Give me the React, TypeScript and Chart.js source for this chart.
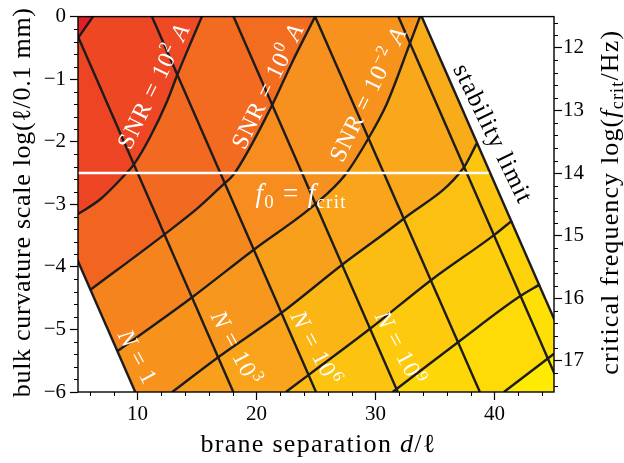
import React, { useEffect, useRef } from 'react';
import { Chart, registerables } from 'chart.js';

Chart.register(...registerables);

// ---------------- axes ----------------
const xTickValues = [10, 20, 30, 40];
const yTickValues = [-6, -5, -4, -3, -2, -1, 0];
const freqTickValues = [12, 13, 14, 15, 16, 17];

// ------------- constant-N lines (and the two boundaries) -------------
// x where each line meets y = 0 (top) and y = -6 (bottom)
const nLineTopX = [-3.99, 4.27, 11.21, 18.07, 24.92, 31.92, 33.88];
const nLineBottomX = [9.81, 18.05, 25.0, 31.87, 38.77, 45.72, 47.7];
const nLineTopY = 0;
const nLineBottomY = -6;

// ------------- constant-SNR curves -------------
const snrP4X = [5, 6.26];
const snrP4Y = [-0.342, 0];
const snrP2X = [5, 6.87, 8.83, 9.67, 11.07, 12.47, 13.35, 14.4, 15.41];
const snrP2Y = [-3.156, -2.92, -2.55, -2.37, -1.92, -1.36, -0.93, -0.45, 0];
const snr0X = [6.02, 12.27, 15.13, 17.22, 18.07, 21.29, 22.97, 24.92];
const snr0Y = [-4.37, -3.48, -3.05, -2.68, -2.526, -1.424, -0.74, 0];
const snrM2X = [8.3, 14.57, 19.74, 24.92, 27.46, 29.4, 30.94, 32.9, 33.74];
const snrM2Y = [-5.35, -4.49, -3.73, -3.0, -2.526, -1.948, -1.397, -0.425, 0];
const snrM4X = [12.92, 16.81, 22.13, 27.17, 32.34, 37.39, 38.5];
const snrM4Y = [-6, -5.44, -4.73, -3.97, -3.235, -2.42, -2.03];
const snrM6X = [22.47, 24.36, 29.54, 34.72, 40.04, 41.47];
const snrM6Y = [-6, -5.73, -4.99, -4.205, -3.48, -3.26];
const snrM8X = [31.44, 36.96, 42.14, 43.82];
const snrM8Y = [-6, -5.2, -4.47, -4.28];
const snrM10X = [40.79, 44.51, 45];
const snrM10Y = [-6, -5.46, -5.39];

const snrCurvesX = [snrP4X, snrP2X, snr0X, snrM2X, snrM4X, snrM6X, snrM8X, snrM10X];
const snrCurvesY = [snrP4Y, snrP2Y, snr0Y, snrM2Y, snrM4Y, snrM6Y, snrM8Y, snrM10Y];

// ------------- f0 = fcrit line -------------
const critLineX = [5, 39.5];
const critLineY = [-2.5, -2.5];

// ------------- cell values (rows: between SNR curves, top to bottom; columns: between N lines) -------------
const cellRow0 = [0.0, 0.0, 0.02, 0.04, 0.05, 0.06];
const cellRow1 = [0.12, 0.13, 0.14, 0.16, 0.17, 0.18];
const cellRow2 = [0.26, 0.28, 0.29, 0.3, 0.31, 0.32];
const cellRow3 = [0.4, 0.42, 0.45, 0.47, 0.48, 0.5];
const cellRow4 = [0.49, 0.51, 0.56, 0.58, 0.6, 0.62];
const cellRow5 = [0.55, 0.58, 0.68, 0.71, 0.74, 0.77];
const cellRow6 = [0.66, 0.7, 0.76, 0.8, 0.83, 0.86];
const cellRow7 = [0.78, 0.82, 0.86, 0.89, 0.91, 0.93];
const cellRow8 = [0.9, 0.92, 0.94, 0.96, 0.97, 1.0];
const cellRows = [cellRow0, cellRow1, cellRow2, cellRow3, cellRow4, cellRow5, cellRow6, cellRow7, cellRow8];

// ------------- colour map -------------
const levelStops = [0, 0.1, 0.2, 0.3, 0.4, 0.5, 0.6, 0.7, 0.8, 0.9, 1];
const levelPalette = ['#e31e28', '#ec4024', '#f05a22', '#f36d21', '#f5841f', '#f7951d', '#f9a81b', '#fbba15', '#fdca0e', '#fed808', '#fff200'];

const FONT = '"Liberation Serif", "Times New Roman", serif';
const LINE = '#1c1c1c';

type Run = { t: string; it?: boolean; sub?: boolean; sup?: boolean };

const annotations: { runs: Run[]; x: number; y: number; angle: number; size: number; color: string; middle: boolean; spacing: number }[] = [
  { runs: [{ t: 'SNR = 10' }, { t: '2', sup: true }, { t: ' ' }, { t: 'A', it: true }], x: 11.35, y: -1.11, angle: -64, size: 24, color: '#fff', middle: true, spacing: 1 },
  { runs: [{ t: 'SNR = 10' }, { t: '0', sup: true }, { t: ' ' }, { t: 'A', it: true }], x: 20.94, y: -1.11, angle: -64, size: 24, color: '#fff', middle: true, spacing: 1 },
  { runs: [{ t: 'SNR = 10' }, { t: '\u22122', sup: true }, { t: ' ' }, { t: 'A', it: true }], x: 29.37, y: -1.24, angle: -64, size: 24, color: '#fff', middle: true, spacing: 1 },
  { runs: [{ t: 'f', it: true }, { t: '0', sub: true }, { t: ' = ' }, { t: 'f', it: true }, { t: 'crit', sub: true }], x: 23.75, y: -2.97, angle: 0, size: 27, color: '#fff', middle: false, spacing: 1.3 },
  { runs: [{ t: 'stability limit' }], x: 39.9, y: -1.87, angle: 64, size: 25, color: '#000', middle: true, spacing: 1.2 },
  { runs: [{ t: 'N', it: true }, { t: ' = 1' }], x: 10.02, y: -5.44, angle: 62, size: 24, color: '#fff', middle: true, spacing: 1 },
  { runs: [{ t: 'N', it: true }, { t: ' = 10' }, { t: '3', sup: true }], x: 18.28, y: -5.3, angle: 62, size: 24, color: '#fff', middle: true, spacing: 1 },
  { runs: [{ t: 'N', it: true }, { t: ' = 10' }, { t: '6', sup: true }], x: 24.99, y: -5.3, angle: 62, size: 24, color: '#fff', middle: true, spacing: 1 },
  { runs: [{ t: 'N', it: true }, { t: ' = 10' }, { t: '9', sup: true }], x: 32.06, y: -5.3, angle: 62, size: 24, color: '#fff', middle: true, spacing: 1 },
];

function hexRgb(h: string) {
  const n = parseInt(h.slice(1), 16);
  return [(n >> 16) & 255, (n >> 8) & 255, n & 255];
}
function levelColor(v: number) {
  const c = Math.max(0, Math.min(1, v));
  let i = 0;
  while (i < levelStops.length - 2 && c > levelStops[i + 1]) i++;
  const t = (c - levelStops[i]) / (levelStops[i + 1] - levelStops[i]);
  const a = hexRgb(levelPalette[i]);
  const b = hexRgb(levelPalette[i + 1]);
  const m = a.map((va, k) => Math.round(va + (b[k] - va) * t));
  return `rgb(${m[0]},${m[1]},${m[2]})`;
}

function runFont(r: Run, size: number) {
  const s = r.sub || r.sup ? size * 0.7 : size;
  return `${r.it ? 'italic ' : ''}${s}px ${FONT}`;
}

function drawRuns(ctx: any, runs: Run[], x: number, y: number, angleDeg: number, size: number, color: string,
  opts: { align?: 'center' | 'left'; middle?: boolean; spacing?: number; fitWidth?: number }) {
  ctx.save();
  ctx.translate(x, y);
  ctx.rotate((angleDeg * Math.PI) / 180);
  ctx.fillStyle = color;
  ctx.textBaseline = 'alphabetic';
  ctx.textAlign = 'left';
  if ('letterSpacing' in ctx) ctx.letterSpacing = '0px';
  const nat = runs.map((r) => { ctx.font = runFont(r, size); return ctx.measureText(r.t).width; });
  const lens = runs.map((r) => [...r.t].length);
  const natTotal = nat.reduce((a, b) => a + b, 0);
  const nChars = lens.reduce((a, b) => a + b, 0);
  let sp = opts.spacing || 0;
  if (opts.fitWidth) sp = Math.max(0, (opts.fitWidth - natTotal) / nChars);
  const widths = nat.map((w, i) => w + sp * lens[i]);
  const total = widths.reduce((a, b) => a + b, 0);
  let cx = opts.align === 'left' ? 0 : -total / 2;
  const by = opts.middle ? size * 0.32 : 0;
  if ('letterSpacing' in ctx) ctx.letterSpacing = sp + 'px';
  runs.forEach((r, i) => {
    ctx.font = runFont(r, size);
    const dy = r.sub ? size * 0.2 : r.sup ? -size * 0.38 : 0;
    ctx.fillText(r.t, cx, by + dy);
    cx += widths[i];
  });
  ctx.restore();
}

const SNR_FIRST_DS = 1 + nLineTopX.length; // dataset 0: crit line, then N lines, then SNR curves

const cellPlugin = {
  id: 'cellFill',
  beforeDatasetsDraw(chart: any) {
    const { ctx, chartArea: a, scales } = chart;
    const px = (v: number) => scales.x.getPixelForValue(v);
    const py = (v: number) => scales.y.getPixelForValue(v);
    ctx.save();
    ctx.beginPath();
    ctx.rect(a.left, a.top, a.right - a.left, a.bottom - a.top);
    ctx.clip();
    for (let r = cellRows.length - 1; r >= 0; r--) {
      for (let b = 0; b < nLineTopX.length - 1; b++) {
        ctx.save();
        ctx.beginPath();
        ctx.moveTo(px(nLineTopX[b]), py(nLineTopY));
        ctx.lineTo(px(nLineBottomX[b]), py(nLineBottomY));
        ctx.lineTo(px(nLineBottomX[b + 1]), py(nLineBottomY));
        ctx.lineTo(px(nLineTopX[b + 1]), py(nLineTopY));
        ctx.closePath();
        ctx.clip();
        if (r < snrCurvesX.length) {
          const meta = chart.getDatasetMeta(SNR_FIRST_DS + r);
          const pts = meta.data;
          const line = meta.dataset;
          ctx.beginPath();
          let ok = false;
          if (line && typeof line.path === 'function') {
            try {
              if (typeof line.updateControlPoints === 'function') line.updateControlPoints(a, 'x');
              line.path(ctx);
              ok = true;
            } catch (e) {
              ok = false;
            }
          }
          if (!ok) {
            ctx.beginPath();
            pts.forEach((p: any, i: number) => (i ? ctx.lineTo(p.x, p.y) : ctx.moveTo(p.x, p.y)));
          }
          const first = pts[0];
          const last = pts[pts.length - 1];
          ctx.lineTo(last.x, -5000);
          ctx.lineTo(-5000, -5000);
          ctx.lineTo(-5000, first.y);
          ctx.closePath();
          ctx.clip();
        }
        ctx.fillStyle = levelColor(cellRows[r][b]);
        ctx.fillRect(a.left - 2, a.top - 2, a.right - a.left + 4, a.bottom - a.top + 4);
        ctx.restore();
      }
    }
    ctx.restore();
  },
  afterDatasetsDraw(chart: any) {
    const { ctx, scales } = chart;
    annotations.forEach((an) => {
      drawRuns(ctx, an.runs, scales.x.getPixelForValue(an.x), scales.y.getPixelForValue(an.y), an.angle, an.size, an.color,
        { align: 'center', middle: an.middle, spacing: an.spacing });
    });
  },
  afterDraw(chart: any) {
    const { ctx, chartArea: a, scales } = chart;
    ctx.save();
    ctx.strokeStyle = '#000';
    ctx.lineWidth = 1.4;
    ctx.strokeRect(a.left, a.top, a.right - a.left, a.bottom - a.top);
    ctx.lineWidth = 1;
    ctx.beginPath();
    for (let v = 6; v <= 44; v += 2) {
      if (v % 10 === 0) continue;
      const x = Math.round(scales.x.getPixelForValue(v)) + 0.5;
      ctx.moveTo(x, a.bottom); ctx.lineTo(x, a.bottom + 4);
    }
    for (let k = -30; k <= 0; k++) {
      if (k % 5 === 0) continue;
      const y = Math.round(scales.y.getPixelForValue(k * 0.2)) + 0.5;
      ctx.moveTo(a.left, y); ctx.lineTo(a.left - 4, y);
    }
    for (let k = 58; k <= 87; k++) {
      if (k % 5 === 0) continue;
      const y = Math.round(scales.y2.getPixelForValue(k * 0.2)) + 0.5;
      ctx.moveTo(a.right, y); ctx.lineTo(a.right + 4, y);
    }
    ctx.stroke();
    ctx.restore();
    const cy = (a.top + a.bottom) / 2 - 2;
    drawRuns(ctx, [{ t: 'bulk curvature scale log(' }, { t: '\u2113' }, { t: '/0.1 mm)' }], a.left - 48.5, cy, -90, 26, '#000', { fitWidth: 390 });
    drawRuns(ctx, [{ t: 'critical frequency log(' }, { t: 'f', it: true }, { t: 'crit', sub: true }, { t: '/Hz)' }], a.right + 64, cy, -90, 26, '#000', { fitWidth: 345 });
    drawRuns(ctx, [{ t: 'brane separation ' }, { t: 'd', it: true }, { t: '/\u2113' }], (a.left + a.right) / 2 + 2.5, a.bottom + 59.5, 0, 26, '#000', { fitWidth: 236 });
  },
};

function lineData(xs: number[], ys: number[]) {
  return xs.map((x, i) => ({ x, y: ys[i] }));
}

export default function App() {
  const ref = useRef<HTMLCanvasElement>(null);
  useEffect(() => {
    const datasets: any[] = [];
    datasets.push({
      data: lineData(critLineX, critLineY), showLine: true, borderColor: '#ffffff', borderWidth: 2.6,
      pointRadius: 0, fill: false,
    });
    nLineTopX.forEach((tx, i) => {
      datasets.push({
        data: lineData([tx, nLineBottomX[i]], [nLineTopY, nLineBottomY]), showLine: true, borderColor: LINE,
        borderWidth: 2.4, pointRadius: 0, fill: false,
      });
    });
    snrCurvesX.forEach((xs, i) => {
      datasets.push({
        data: lineData(xs, snrCurvesY[i]), showLine: true, borderColor: LINE, borderWidth: 2.4,
        pointRadius: 0, fill: false, cubicInterpolationMode: 'monotone',
      });
    });
    const tickFont = { family: FONT, size: 21 };
    const grid = { display: true, drawOnChartArea: false, drawTicks: true, tickLength: 8, tickColor: '#000', tickWidth: 1.2 };
    const chart = new Chart(ref.current as HTMLCanvasElement, {
      type: 'scatter',
      data: { datasets },
      plugins: [cellPlugin],
      options: {
        responsive: false,
        animation: false,
        devicePixelRatio: 1,
        layout: { padding: { top: 11, left: 0, right: 0, bottom: 0 } },
        plugins: { legend: { display: false }, tooltip: { enabled: false }, title: { display: false } },
        scales: {
          x: {
            type: 'linear', min: 5, max: 45,
            afterBuildTicks: (s: any) => { s.ticks = xTickValues.map((v) => ({ value: v })); },
            afterFit: (s: any) => { s.height = 71; },
            grid, border: { display: false },
            ticks: { font: tickFont, color: '#000', padding: 2, maxRotation: 0, autoSkip: false, callback: (v: any) => String(v) },
          },
          y: {
            type: 'linear', min: -6, max: 0, position: 'left',
            afterBuildTicks: (s: any) => { s.ticks = yTickValues.map((v) => ({ value: v })); },
            afterFit: (s: any) => { s.width = 78; },
            grid, border: { display: false },
            ticks: { font: tickFont, color: '#000', padding: 4, autoSkip: false, callback: (v: any) => (v < 0 ? '\u2212' + Math.abs(v) : String(v)) },
          },
          y2: {
            type: 'linear', min: 11.5, max: 17.5, reverse: true, position: 'right',
            afterBuildTicks: (s: any) => { s.ticks = freqTickValues.map((v) => ({ value: v })); },
            afterFit: (s: any) => { s.width = 70; },
            grid, border: { display: false },
            ticks: { font: tickFont, color: '#000', padding: 1, autoSkip: false, callback: (v: any) => String(v) },
          },
        },
      } as any,
    });
    return () => chart.destroy();
  }, []);
  return (
    <div style={{ position: 'absolute', left: 0, top: 0, width: 624, height: 463, background: '#fff' }}>
      <canvas ref={ref} width={624} height={463} style={{ display: 'block', width: 624, height: 463 }} />
    </div>
  );
}
